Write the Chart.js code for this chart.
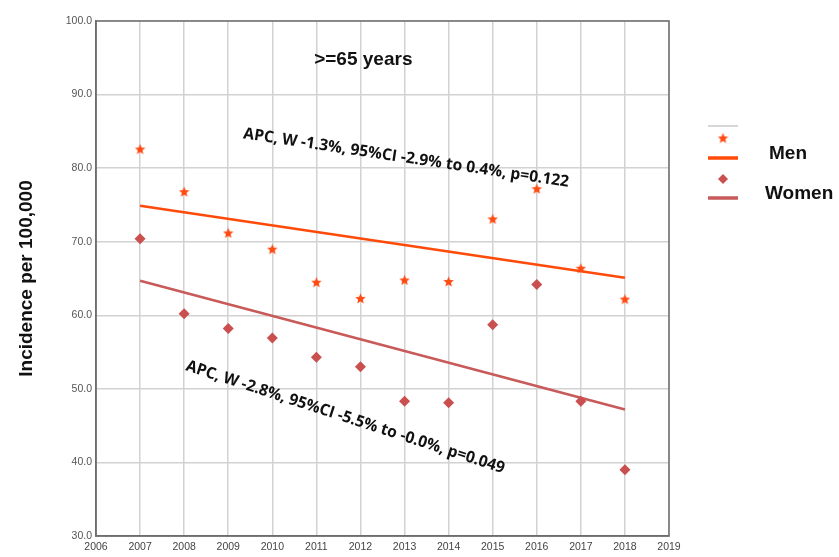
<!DOCTYPE html>
<html>
<head>
<meta charset="utf-8">
<script src="https://cdn.jsdelivr.net/npm/chart.js@4/dist/chart.umd.min.js"></script>
<style>
html,body{margin:0;padding:0;background:#fff;}
#c{display:block;}
</style>
</head>
<body>
<canvas id="c" width="839" height="557"></canvas>
<script>
// ---- data ----
const years = [2007, 2008, 2009, 2010, 2011, 2012, 2013, 2014, 2015, 2016, 2017, 2018];
const menValues = [82.6, 76.8, 71.2, 69.0, 64.5, 62.3, 64.8, 64.6, 73.1, 77.2, 66.4, 62.2];
const womenValues = [70.4, 60.2, 58.2, 56.9, 54.3, 53.0, 48.3, 48.1, 58.7, 64.2, 48.3, 39.0];
const menTrendYears = [2007, 2018];
const menTrendValues = [74.9, 65.1];
const womenTrendYears = [2007, 2018];
const womenTrendValues = [64.7, 47.2];
const xTickRange = [2006, 2019];
const yTickRange = [30, 100];
const titleText = '>=65 years';
const yAxisTitle = 'Incidence per 100,000';
const seriesNames = ['Men', 'Women'];
const menAnnotation = 'APC, W -1.3%, 95%CI -2.9% to 0.4%, p=0.122';
const womenAnnotation = 'APC, W -2.8%, 95%CI -5.5% to -0.0%, p=0.049';

const MEN_COLOR = '#FF4A12';
const MEN_LINE = '#FF4A0A';
const WOMEN_COLOR = '#C9504F';
const WOMEN_LINE = '#C95A5A';

function makeStar(size, color) {
  const cv = document.createElement('canvas');
  cv.width = size; cv.height = size;
  const g = cv.getContext('2d');
  const cx = size / 2, cy = size / 2 + 0.5, R = size / 2, r = R * 0.45;
  g.beginPath();
  for (let i = 0; i < 10; i++) {
    const a = -Math.PI / 2 + i * Math.PI / 5;
    const rr = i % 2 === 0 ? R : r;
    g.lineTo(cx + rr * Math.cos(a), cy + rr * Math.sin(a));
  }
  g.closePath();
  g.fillStyle = color;
  g.fill();
  return cv;
}
const starImg = makeStar(11, MEN_COLOR);

const toPts = (xs, ys) => xs.map((x, i) => ({x: x, y: ys[i]}));

const decorPlugin = {
  id: 'decor',
  afterDatasetsDraw(chart) {
    const ctx = chart.ctx;
    const xs = chart.scales.x, ys = chart.scales.y;
    const a = chart.chartArea;
    ctx.save();
    // frame
    ctx.strokeStyle = '#6e6e6e';
    ctx.lineWidth = 1.5;
    ctx.strokeRect(a.left, a.top, a.right - a.left, a.bottom - a.top);

    // title
    ctx.fillStyle = '#111';
    ctx.font = 'bold 19px "Liberation Sans", Arial, sans-serif';
    ctx.textAlign = 'left';
    ctx.textBaseline = 'middle';
    ctx.fillText(titleText, xs.getPixelForValue(2010.95), ys.getPixelForValue(94.7));

    // rotated annotations
    function rotText(txt, xv, yv, deg, target) {
      ctx.save();
      ctx.font = 'bold 16px "Open Sans", "Liberation Sans", sans-serif';
      const w = ctx.measureText(txt).width;
      ctx.translate(xs.getPixelForValue(xv), ys.getPixelForValue(yv));
      ctx.rotate(deg * Math.PI / 180);
      ctx.scale(target / w, 1);
      ctx.textAlign = 'left';
      ctx.textBaseline = 'alphabetic';
      ctx.fillStyle = '#111';
      ctx.fillText(txt, 0, 0);
      ctx.restore();
    }
    rotText(menAnnotation, 2009.33, 84.06, 8.5, 329);
    rotText(womenAnnotation, 2008.02, 52.56, 18.0, 334);

    // legend
    const lx0 = 708, lx1 = 738, lcx = 723;
    ctx.strokeStyle = '#c8c8c8';
    ctx.lineWidth = 1.5;
    ctx.beginPath(); ctx.moveTo(lx0, 126); ctx.lineTo(lx1, 126); ctx.stroke();
    ctx.drawImage(starImg, lcx - 5.5, 138 - 5.5);
    ctx.strokeStyle = MEN_LINE; ctx.lineWidth = 3.5;
    ctx.beginPath(); ctx.moveTo(lx0, 158); ctx.lineTo(lx1, 158); ctx.stroke();
    ctx.fillStyle = WOMEN_COLOR;
    ctx.beginPath();
    ctx.moveTo(lcx, 179 - 5); ctx.lineTo(lcx + 5, 179); ctx.lineTo(lcx, 179 + 5); ctx.lineTo(lcx - 5, 179);
    ctx.closePath(); ctx.fill();
    ctx.strokeStyle = WOMEN_LINE; ctx.lineWidth = 3.5;
    ctx.beginPath(); ctx.moveTo(lx0, 198); ctx.lineTo(lx1, 198); ctx.stroke();
    ctx.fillStyle = '#111';
    ctx.font = 'bold 19px "Liberation Sans", Arial, sans-serif';
    ctx.textAlign = 'left';
    ctx.textBaseline = 'middle';
    ctx.fillText(seriesNames[0], 769, 154);
    ctx.fillText(seriesNames[1], 765, 194);
    ctx.restore();
  }
};

new Chart(document.getElementById('c'), {
  type: 'scatter',
  data: {
    datasets: [
      {label: seriesNames[0] + ' trend', type: 'line', data: toPts(menTrendYears, menTrendValues),
       borderColor: MEN_LINE, borderWidth: 2.6, pointRadius: 0, fill: false, order: 3},
      {label: seriesNames[1] + ' trend', type: 'line', data: toPts(womenTrendYears, womenTrendValues),
       borderColor: WOMEN_LINE, borderWidth: 2.6, pointRadius: 0, fill: false, order: 4},
      {label: seriesNames[0], data: toPts(years, menValues), pointStyle: starImg,
       backgroundColor: MEN_COLOR, borderColor: MEN_COLOR, pointRadius: 5.5, order: 1},
      {label: seriesNames[1], data: toPts(years, womenValues), pointStyle: 'rectRot',
       backgroundColor: WOMEN_COLOR, borderColor: WOMEN_COLOR, borderWidth: 0, pointRadius: 5.5, order: 2}
    ]
  },
  options: {
    responsive: false,
    animation: false,
    devicePixelRatio: 1,
    layout: {padding: {left: 0, right: 170, top: 21, bottom: 0}},
    plugins: {legend: {display: false}, tooltip: {enabled: false}},
    scales: {
      x: {
        type: 'linear', min: xTickRange[0], max: xTickRange[1],
        ticks: {stepSize: 1, callback: v => String(v), color: '#444',
                font: {family: '"Liberation Sans", Arial, sans-serif', size: 10.5}, padding: 5, maxRotation: 0},
        grid: {color: '#d2d2d2', lineWidth: 1.5, drawTicks: false},
        border: {display: true, color: '#6e6e6e', width: 1.5},
        afterFit: s => { s.height = 21; }
      },
      y: {
        min: yTickRange[0], max: yTickRange[1],
        ticks: {stepSize: 10, callback: v => v.toFixed(1), color: '#555',
                font: {family: '"Liberation Sans", Arial, sans-serif', size: 10.5}, padding: 4},
        grid: {color: '#d2d2d2', lineWidth: 1.5, drawTicks: false},
        border: {display: true, color: '#6e6e6e', width: 1.5},
        title: {display: true, text: yAxisTitle, color: '#111',
                font: {family: '"Liberation Sans", Arial, sans-serif', size: 19, weight: 'bold'},
                padding: {top: 15, bottom: 0}},
        afterFit: s => { s.width = 96; }
      }
    }
  },
  plugins: [decorPlugin]
});
</script>
</body>
</html>
